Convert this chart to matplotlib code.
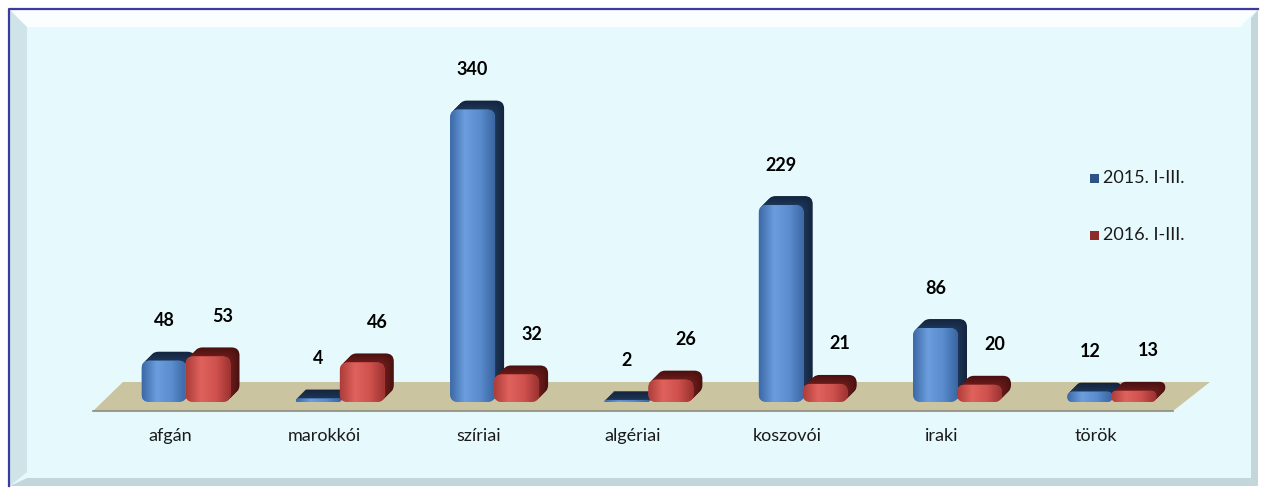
import numpy as np
import matplotlib.pyplot as plt
from matplotlib.patches import FancyBboxPatch, Polygon, Rectangle
from matplotlib.colors import LinearSegmentedColormap, to_rgb

plt.rcParams['font.family'] = ['Lato', 'DejaVu Sans']

categories = ['afgán', 'marokkói', 'szíriai', 'algériai', 'koszovói', 'iraki', 'török']
series_names = ['2015. I-III.', '2016. I-III.']
values_2015 = [48, 4, 340, 2, 229, 86, 12]
values_2016 = [53, 46, 32, 26, 21, 20, 13]

W, H = 1261, 488
fig = plt.figure(figsize=(W / 100, H / 100), dpi=100)

# background frame, drawn in pixel units
bg = fig.add_axes([0, 0, 1, 1])
bg.set_xlim(0, W)
bg.set_ylim(H, 0)
bg.axis('off')
bg.add_patch(Rectangle((9, 9), 1249, 477, facecolor='#e6fafd', edgecolor='none'))
bg.add_patch(Polygon([(10, 10), (1257, 10), (1240, 27), (27, 27)],
                     facecolor='white', alpha=0.85, lw=0))
bg.add_patch(Polygon([(10, 10), (27, 27), (27, 472), (10, 486)],
                     facecolor='#b4cbd2', alpha=0.45, lw=0))
bg.add_patch(Polygon([(10, 486), (27, 478), (1251, 478), (1258, 486)],
                     facecolor='#9aabaf', alpha=0.45, lw=0))
bg.add_patch(Polygon([(1258, 10), (1258, 486), (1251, 478), (1251, 18)],
                     facecolor='#9aabaf', alpha=0.45, lw=0))
bg.plot([9, 9, 1258], [486, 9, 9], color='#3b3b9e', lw=1.6)

# chart layer: x in category units, y in data units
ax = fig.add_axes([0, 0, 1, 1])
ax.patch.set_alpha(0)
ax.axis('off')
x0px, step = 170, 154.3     # first category centre and spacing (px)
base_px, ppu = 402, 0.86    # baseline (px from top) and px per unit
xlim = (-x0px / step, (W - x0px) / step)
ylim = (-(H - base_px) / ppu, base_px / ppu)


def fx(px):
    return (px - x0px) / step


def fy(py):
    return (base_px - py) / ppu


# floor
ax.add_patch(Polygon([(fx(93), fy(411)), (fx(123), fy(382)),
                      (fx(1210), fy(382)), (fx(1173), fy(411))],
                     facecolor='#cbc4a0', edgecolor='none', zorder=1))
ax.plot([fx(93), fx(1173)], [fy(411), fy(411)], color='#8c8c84', lw=1.2, zorder=1)

aspect = step / ppu
width = 45 / step
dx, dy = 9 / step, 9 / ppu
offsets = [-6 / step, 38 / step]
label_dx = [0, 15]

styles = [
    dict(front=['#3d6aa8', '#6c9ede', '#5a8cce', '#3b66a2'],
         rim='#1e3759', back='#14253f', legend='#2d5288'),
    dict(front=['#ae3d39', '#e0625d', '#d0524e', '#9c3330'],
         rim='#6c1d1b', back='#4a1110', legend='#8e2c2a'),
]

for s, vals in enumerate([values_2015, values_2016]):
    st = styles[s]
    cmap = LinearSegmentedColormap.from_list('f%d' % s, st['front'])
    grad = cmap(np.linspace(0, 1, 64))[np.newaxis, :, :3]
    rim, back = np.array(to_rgb(st['rim'])), np.array(to_rgb(st['back']))
    for i, v in enumerate(vals):
        xc = i + offsets[s]
        xl = xc - width / 2
        r = min(8 / step, width / 2, v / aspect / 2)
        box = 'round,pad=0,rounding_size=%f' % r
        # extruded depth: stacked copies from back to front
        n = 8
        for k in range(n, 0, -1):
            t = k / n
            c = back * t + rim * (1 - t)
            ax.add_patch(FancyBboxPatch((xl + t * dx, t * dy), width, v, boxstyle=box,
                                        mutation_aspect=aspect, facecolor=c,
                                        edgecolor='none', zorder=2 + 2 * i))
        front = FancyBboxPatch((xl, 0), width, v, boxstyle=box, mutation_aspect=aspect,
                               facecolor=st['front'][2], edgecolor='none', zorder=3 + 2 * i)
        ax.add_patch(front)
        im = ax.imshow(grad, extent=[xl, xl + width, 0, v], aspect='auto',
                       zorder=3 + 2 * i, interpolation='bilinear')
        im.set_clip_path(front)
        ax.annotate(str(v), (xc, v), xytext=(label_dx[s], 40), textcoords='offset pixels',
                    ha='center', va='center', fontsize=13, fontweight='bold', color='black')

for i, name in enumerate(categories):
    ax.text(i, fy(436), name, ha='center', va='center', fontsize=13, color='#1a1a1a')

# legend
for s, name in enumerate(series_names):
    ly = fy(178 + 57 * s)
    ax.add_patch(Rectangle((fx(1090), ly - 4.5 / ppu), 9 / step, 9 / ppu,
                           facecolor=styles[s]['legend'], edgecolor='none', zorder=30))
    ax.text(fx(1103), ly, name, ha='left', va='center', fontsize=13, color='#1a1a1a')

ax.set_xlim(*xlim)
ax.set_ylim(*ylim)
ax.set_aspect('auto')

fig.savefig('out.png', dpi=100)
